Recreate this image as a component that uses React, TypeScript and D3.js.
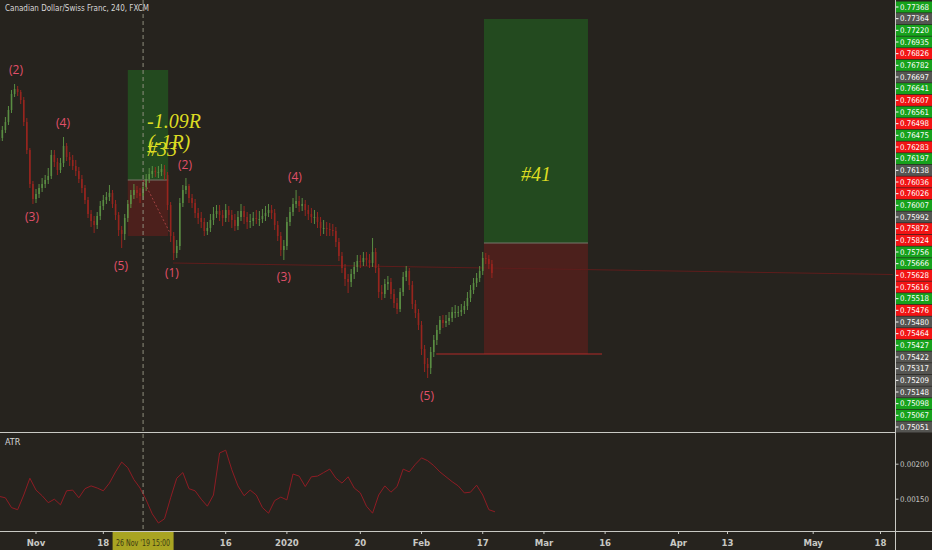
import React, { useEffect } from 'react';
import * as d3 from 'd3';

const W = 932;
const H = 550;
const PANE_RIGHT = 895;
const MAIN_BOTTOM = 432;
const ATR_BOTTOM = 531;

// 12h candles, prices in 1e-5 units, first candle on trading day -6 (Nov 1 = day 0)
const CANDLE_START_DAY = -6;
const CANDLE_STEP = 0.5;
const firstOpen = 76424;
const closes = [
  76442, 76490, 76538, 76610, 76706, 76736, 76718, 76670, 76538, 76370,
  76166, 76076, 76106, 76142, 76166, 76190, 76214, 76340, 76298, 76250,
  76292, 76394, 76328, 76310, 76274, 76244, 76196, 76142, 76070, 75986,
  75944, 75920, 75974, 76034, 76070, 76088, 76112, 76046, 75980, 75890,
  75866, 75962, 76046, 76100, 76130, 76112, 76094, 76148, 76196, 76226,
  76244, 76238, 76238, 76256, 76220, 76040, 75854, 75752, 75794, 76052,
  76130, 76154, 76082, 76052, 75992, 75962, 75938, 75884, 75902, 75950,
  75986, 76004, 75980, 75962, 76010, 75980, 75950, 75914, 75968, 76004,
  75968, 75938, 75944, 75962, 75956, 75956, 75974, 75992, 76010, 75992,
  75920, 75854, 75770, 75794, 75938, 75998, 76046, 76064, 76034, 76046,
  76010, 75986, 75968, 75968, 75938, 75902, 75902, 75896, 75890, 75884,
  75818, 75734, 75662, 75596, 75578, 75626, 75668, 75704, 75698, 75722,
  75710, 75692, 75758, 75662, 75518, 75506, 75566, 75578, 75506, 75452,
  75416, 75518, 75608, 75644, 75560, 75446, 75392, 75320, 75176, 75086,
  75062, 75158, 75230, 75290, 75350, 75332, 75344, 75362, 75398, 75398,
  75398, 75410, 75434, 75482, 75530, 75572, 75602, 75644, 75722, 75716,
  75686, 75632,
];
const highs = [
  76478, 76514, 76568, 76634, 76730, 76766, 76754, 76730, 76688, 76562,
  76382, 76184, 76136, 76166, 76202, 76220, 76262, 76370, 76370, 76322,
  76322, 76448, 76412, 76358, 76340, 76310, 76268, 76220, 76160, 76088,
  76010, 75974, 75998, 76064, 76100, 76118, 76160, 76130, 76070, 75998,
  75914, 75986, 76070, 76130, 76166, 76154, 76142, 76178, 76226, 76262,
  76274, 76268, 76274, 76286, 76280, 76238, 76058, 75878, 75830, 76082,
  76160, 76202, 76166, 76106, 76076, 76022, 75998, 75962, 75938, 75986,
  76028, 76040, 76040, 76010, 76046, 76034, 76010, 75986, 76004, 76046,
  76034, 75998, 75986, 75998, 76010, 76004, 76016, 76034, 76046, 76040,
  76016, 75944, 75878, 75830, 75968, 76028, 76082, 76130, 76094, 76082,
  76070, 76040, 76022, 76010, 75998, 75968, 75950, 75938, 75932, 75926,
  75908, 75842, 75758, 75686, 75626, 75656, 75698, 75740, 75740, 75758,
  75758, 75746, 75842, 75782, 75686, 75560, 75596, 75614, 75602, 75536,
  75482, 75542, 75638, 75674, 75662, 75584, 75470, 75416, 75344, 75200,
  75122, 75188, 75260, 75320, 75374, 75380, 75380, 75398, 75428, 75440,
  75434, 75446, 75464, 75518, 75560, 75602, 75632, 75674, 75758, 75752,
  75740, 75710,
];
const lows = [
  76400, 76424, 76472, 76520, 76592, 76688, 76694, 76646, 76514, 76346,
  76142, 76046, 76052, 76082, 76118, 76142, 76166, 76196, 76268, 76220,
  76232, 76268, 76304, 76274, 76250, 76214, 76172, 76112, 76046, 75962,
  75908, 75872, 75896, 75950, 76010, 76046, 76064, 76022, 75950, 75854,
  75782, 75830, 75938, 76022, 76076, 76082, 76052, 76070, 76124, 76172,
  76202, 76208, 76202, 76214, 76190, 76010, 75818, 75710, 75722, 75770,
  76028, 76106, 76052, 76022, 75962, 75926, 75902, 75854, 75860, 75878,
  75920, 75962, 75944, 75914, 75938, 75938, 75902, 75884, 75890, 75944,
  75926, 75896, 75902, 75914, 75926, 75914, 75932, 75944, 75968, 75956,
  75890, 75824, 75734, 75710, 75770, 75914, 75974, 76022, 75998, 76004,
  75974, 75950, 75932, 75926, 75902, 75854, 75866, 75854, 75854, 75854,
  75788, 75704, 75632, 75554, 75512, 75548, 75596, 75638, 75662, 75674,
  75674, 75662, 75668, 75632, 75482, 75470, 75482, 75530, 75476, 75422,
  75386, 75398, 75494, 75584, 75530, 75416, 75362, 75290, 75140, 75038,
  75002, 75026, 75128, 75200, 75266, 75302, 75308, 75320, 75338, 75362,
  75368, 75374, 75386, 75410, 75458, 75506, 75548, 75578, 75620, 75686,
  75656, 75602,
];

// daily ATR, in 1e-5
const ATR_START_DAY = -6;
const atrValues = [
  154, 152, 138, 135, 156, 180, 163, 155, 145, 150,
  142, 162, 163, 152, 165, 169, 166, 162, 173, 189,
  203, 195, 178, 166, 149, 129, 116, 122, 152, 180,
  188, 165, 162, 150, 140, 156, 216, 220, 192, 169,
  155, 163, 156, 138, 130, 148, 153, 149, 186, 183,
  168, 182, 183, 188, 193, 180, 173, 182, 166, 159,
  140, 130, 156, 169, 160, 168, 193, 189, 200, 209,
  205, 198, 189, 182, 175, 169, 159, 160, 170, 156,
  135, 132,
];
const atrTicks = [0.002, 0.0015];

// trading-day index of each time label
const dateLabels = ['Nov', '18', '16', '2020', '20', 'Feb', '17', 'Mar', '16', 'Apr', '13', 'May', '18'];
const dateDays = [0, 11, 31, 41, 53, 63, 73, 83, 93, 105, 113, 127, 138];

const priceLabels = [
  '0.77368', '0.77364', '0.77220', '0.76935', '0.76826', '0.76782', '0.76697', '0.76641',
  '0.76607', '0.76561', '0.76498', '0.76475', '0.76283', '0.76197', '0.76138', '0.76036',
  '0.76026', '0.76007', '0.75992', '0.75872', '0.75824', '0.75756', '0.75666', '0.75628',
  '0.75616', '0.75518', '0.75476', '0.75480', '0.75464', '0.75427', '0.75422', '0.75317',
  '0.75209', '0.75148', '0.75098', '0.75067', '0.75051',
];
const priceLabelKinds = 'gnggrgngrgrgrgnrrgnrrggrrgrnrgnnnnggn'.split('');

const waveTexts = ['(2)', '(4)', '(3)', '(5)', '(1)', '(2)', '(4)', '(3)', '(5)'];
const waveDays = [-3.27, 4.41, -0.65, 13.9, 22.2, 24.35, 42.3, 40.5, 63.9];
const wavePrices = [0.76844, 0.76526, 0.75962, 0.75668, 0.75626, 0.76274, 0.76202, 0.75602, 0.74888];

const trades = [
  { label: '#33', start: 15.0, end: 21.6, entry: 0.7619, target: 0.7685, stop: 0.75854 },
  { label: '#41', start: 73.2, end: 90.2, entry: 0.75812, target: 0.77156, stop: 0.75146 },
];
const tradeResult = ['-1.09R', '(-1R)'];
const exitDay = 21.9;
const exitPrice = 0.75872;
const stopLineDays = [65.4, 92.5];
const trendDays = [22.4, 140];
const trendPrices = [0.75692, 0.75623];
const crosshairDay = 17.5;
const crosshairLabel = "26 Nov '19   15:00";

const BG = '#26231e';
const UP = '#5f9747';
const DOWN = '#a0261f';
const LABEL_COLORS: Record<string, string> = { g: '#16a21c', r: '#f21414', n: '#555552' };
const AXIS_FONT = "'Liberation Sans Narrow', 'DejaVu Sans Condensed', Roboto, sans-serif";

const App: React.FC = () => {
  useEffect(() => {
    document.body.style.margin = '0';
    document.body.style.background = BG;
  }, []);

  const x = d3.scaleLinear().domain([0, 138]).range([36, 880.5]);
  const y = d3.scaleLinear().domain([0.74684, 0.7727]).range([431, 0]);
  const yAtr = d3.scaleLinear().domain([0.00106, 0.00246]).range([530, 432]);
  const yLabel = d3.scalePoint<number>().domain(d3.range(priceLabels.length)).range([7, 427]);

  const candles = closes.map((c, i) => ({
    day: CANDLE_START_DAY + i * CANDLE_STEP,
    open: (i ? closes[i - 1] : firstOpen) / 1e5,
    high: highs[i] / 1e5,
    low: lows[i] / 1e5,
    close: c / 1e5,
  }));

  const atrLine = d3
    .line<number>()
    .x((_, k) => x(ATR_START_DAY + k))
    .y((v) => yAtr(v / 1e5))(atrValues);

  const cx = x(crosshairDay);

  return (
    <svg width={W} height={H} style={{ position: 'absolute', left: 0, top: 0, display: 'block', background: BG }}>
      <defs>
        <clipPath id="main">
          <rect x={0} y={0} width={PANE_RIGHT} height={MAIN_BOTTOM} />
        </clipPath>
        <clipPath id="atr">
          <rect x={0} y={MAIN_BOTTOM} width={PANE_RIGHT} height={ATR_BOTTOM - MAIN_BOTTOM} />
        </clipPath>
      </defs>
      <rect width={W} height={H} fill={BG} />

      <g clipPath="url(#main)">
        {trades.map((t) => (
          <g key={t.label}>
            <rect x={x(t.start)} y={y(t.target)} width={x(t.end) - x(t.start)} height={y(t.entry) - y(t.target)} fill="#234a1f" />
            <rect x={x(t.start)} y={y(t.entry)} width={x(t.end) - x(t.start)} height={y(t.stop) - y(t.entry)} fill="#4c201c" />
            <line x1={x(t.start)} x2={x(t.end)} y1={y(t.entry)} y2={y(t.entry)} stroke="#77776a" strokeWidth={1} />
          </g>
        ))}

        <line
          x1={x(trendDays[0])} x2={x(trendDays[1])}
          y1={y(trendPrices[0])} y2={y(trendPrices[1])}
          stroke="#5e1d1c" strokeWidth={1}
        />
        <line
          x1={x(stopLineDays[0])} x2={x(stopLineDays[1])}
          y1={y(trades[1].stop)} y2={y(trades[1].stop)}
          stroke="#b02a28" strokeWidth={1.2}
        />
        <line
          x1={cx} x2={x(exitDay)} y1={y(trades[0].entry)} y2={y(exitPrice)}
          stroke="#c45050" strokeWidth={1} strokeDasharray="2,2" opacity={0.7}
        />

        {candles.map((c, i) => {
          const color = c.close >= c.open ? UP : DOWN;
          const cxp = x(c.day);
          const top = y(Math.max(c.open, c.close));
          const bot = y(Math.min(c.open, c.close));
          return (
            <g key={i} opacity={0.92}>
              <line x1={cxp} x2={cxp} y1={y(c.high)} y2={y(c.low)} stroke={color} strokeWidth={1} />
              <rect x={cxp - 0.8} y={top} width={1.6} height={Math.max(1, bot - top)} fill={color} />
            </g>
          );
        })}

        {waveTexts.map((t, i) => (
          <text
            key={i} x={x(waveDays[i])} y={y(wavePrices[i])}
            textAnchor="middle" dominantBaseline="middle"
            fontFamily="'Open Sans', sans-serif" fontSize={12} fill="#e1506a"
          >
            {t}
          </text>
        ))}

        <g fontFamily="'Liberation Serif', 'DejaVu Serif', serif" fontStyle="italic" fontSize={20} fill="#dcdc22">
          <text x={cx + 4} y={y(0.76502)}>{tradeResult[0]}</text>
          <text x={cx + 5} y={y(0.76376)}>{tradeResult[1]}</text>
          <text x={cx + 4} y={y(0.76334)}>{trades[0].label}</text>
          <text x={(x(trades[1].start) + x(trades[1].end)) / 2} y={y(0.76184)} textAnchor="middle">{trades[1].label}</text>
        </g>

        <text x={5} y={11} fontFamily={AXIS_FONT} fontSize={9.5} fill="#d6d6d6" textLength={144} lengthAdjust="spacingAndGlyphs">
          Canadian Dollar/Swiss Franc, 240, FXCM
        </text>
      </g>

      <g clipPath="url(#atr)">
        <path d={atrLine ?? ''} fill="none" stroke="#8e1c24" strokeWidth={1} />
        <text x={5} y={445} fontFamily={AXIS_FONT} fontSize={9} fill="#d6d6d6">ATR</text>
      </g>

      <line x1={cx} x2={cx} y1={0} y2={ATR_BOTTOM} stroke="#8e8e7c" strokeWidth={1} strokeDasharray="4,3" />

      {/* pane borders */}
      <line x1={0} x2={PANE_RIGHT} y1={MAIN_BOTTOM + 0.5} y2={MAIN_BOTTOM + 0.5} stroke="#c9c9c4" strokeWidth={1} />
      <line x1={0} x2={W} y1={ATR_BOTTOM + 0.5} y2={ATR_BOTTOM + 0.5} stroke="#c9c9c4" strokeWidth={1} />
      <line x1={PANE_RIGHT + 0.5} x2={PANE_RIGHT + 0.5} y1={0} y2={H} stroke="#c9c9c4" strokeWidth={1} />

      {/* price labels */}
      <g fontFamily={AXIS_FONT} fontSize={7.8}>
        {priceLabels.map((p, i) => {
          const cy = yLabel(i) ?? 0;
          return (
            <g key={i}>
              <rect x={PANE_RIGHT + 1} y={cy - 5.5} width={W - PANE_RIGHT - 1} height={11} fill={LABEL_COLORS[priceLabelKinds[i]]} />
              <line x1={PANE_RIGHT + 1} x2={PANE_RIGHT + 3.5} y1={cy} y2={cy} stroke="#ffffff" />
              <text x={PANE_RIGHT + 5} y={cy} dominantBaseline="central" fill="#ffffff">{p}</text>
            </g>
          );
        })}
      </g>

      {/* ATR axis */}
      <g fontFamily={AXIS_FONT} fontSize={7.8} fill="#c4c4c0">
        {atrTicks.map((t) => (
          <g key={t}>
            <line x1={PANE_RIGHT + 1} x2={PANE_RIGHT + 3.5} y1={yAtr(t)} y2={yAtr(t)} stroke="#c4c4c0" />
            <text x={PANE_RIGHT + 5} y={yAtr(t)} dominantBaseline="central">{d3.format('.5f')(t)}</text>
          </g>
        ))}
      </g>

      {/* time axis */}
      <g fontFamily={AXIS_FONT} fontSize={9.5} fill="#c8c8c4" fontWeight="bold">
        {dateLabels.map((l, i) => (
          <g key={i}>
            <line x1={x(dateDays[i])} x2={x(dateDays[i])} y1={ATR_BOTTOM + 1} y2={ATR_BOTTOM + 3} stroke="#c8c8c4" />
            <text x={x(dateDays[i])} y={542} textAnchor="middle" dominantBaseline="central">{l}</text>
          </g>
        ))}
      </g>
      <rect x={cx - 30.5} y={ATR_BOTTOM + 1} width={61} height={H - ATR_BOTTOM - 1} fill="#a9a422" />
      <text
        x={cx} y={542} textAnchor="middle" dominantBaseline="central"
        fontFamily={AXIS_FONT} fontSize={9.5} fill="#3c3a14"
        textLength={54} lengthAdjust="spacingAndGlyphs"
      >
        {crosshairLabel}
      </text>
    </svg>
  );
};

export default App;
